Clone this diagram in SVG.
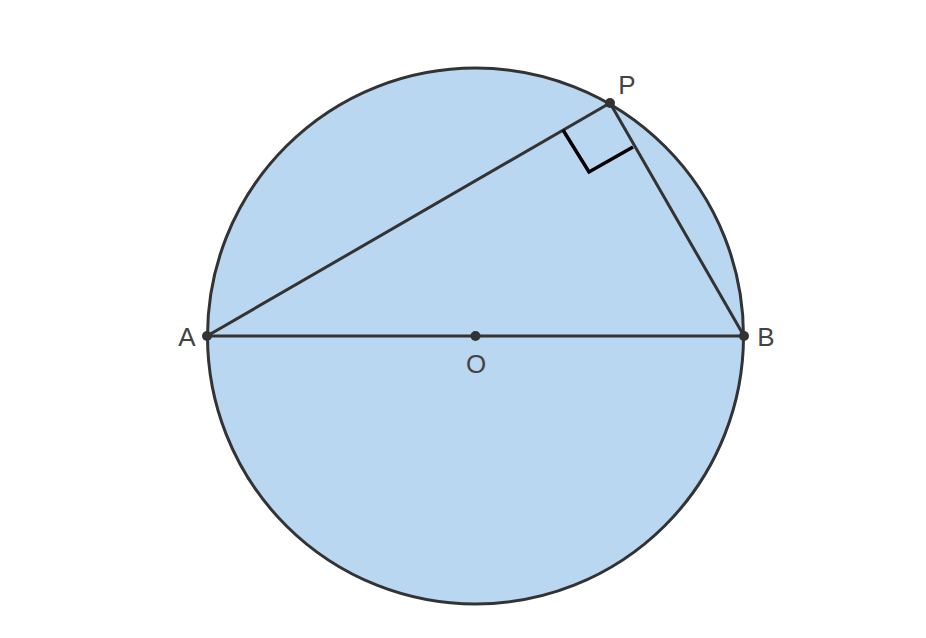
<svg xmlns="http://www.w3.org/2000/svg" width="926" height="638" viewBox="0 0 926 638">
<style>
.ln{stroke:#333;stroke-width:3;fill:none;stroke-linecap:round}
.pt{fill:#333}
.lb{font-family:"Liberation Sans",Arial,sans-serif;font-size:26px;fill:#444}
</style>
<rect width="926" height="638" fill="#fff"/>
<g id="circle"><circle cx="475.5" cy="336" r="268" fill="#bad7f2" stroke="#333" stroke-width="3"/></g>
<g id="connectors">
<line class="ln" x1="207" y1="336" x2="744" y2="336"/>
<line class="ln" x1="207" y1="336" x2="610" y2="103"/>
<line class="ln" x1="610" y1="103" x2="744" y2="336"/>
<polyline points="563,130 589,172 633,147" fill="none" stroke="#000" stroke-width="3.5"/>
</g>
<g id="A"><circle class="pt" cx="207" cy="336" r="5"/><text class="lb" x="187" y="346" text-anchor="middle">A</text></g>
<g id="O"><circle class="pt" cx="475.5" cy="336" r="5"/><text class="lb" x="476" y="373" text-anchor="middle">O</text></g>
<g id="B"><circle class="pt" cx="744" cy="336" r="5"/><text class="lb" x="766" y="346" text-anchor="middle">B</text></g>
<g id="P"><circle class="pt" cx="610" cy="103" r="5"/><text class="lb" x="627" y="94" text-anchor="middle">P</text></g>
</svg>
